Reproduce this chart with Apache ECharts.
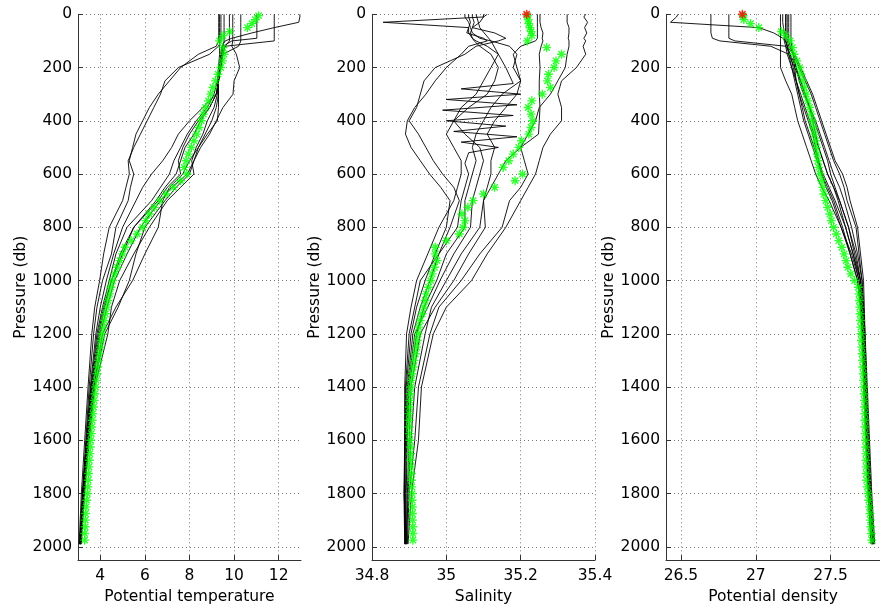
<!DOCTYPE html>
<html>
<head>
<meta charset="utf-8">
<script src="https://cdn.jsdelivr.net/npm/echarts@6/dist/echarts.min.js"></script>
<style>
  html, body { margin: 0; padding: 0; background: #fff; }
  #chart { width: 880px; height: 610px; }
</style>
</head>
<body>
<div id="chart"></div>
<script>
// tick labels
const pressureTicks = [0, 200, 400, 600, 800, 1000, 1200, 1400, 1600, 1800, 2000];
const tempTicks = [4, 6, 8, 10, 12];
const salTicks = [34.8, 35, 35.2, 35.4];
const densTicks = [26.5, 27, 27.5];

// pressure levels of the black profiles
const profileP = [0, 10, 30, 50, 70, 90, 100, 120, 150, 200, 250, 300, 350, 400, 450, 500, 550,
  600, 650, 700, 800, 900, 1000, 1100, 1200, 1400, 1600, 1800, 1990];

// potential temperature profiles
const tempA = [9.31, 9.31, 9.31, 9.31, 9.31, 9.31, 9.31, 9.2, 8.4, 7.6, 7.1, 6.6, 6.2, 5.9, 5.6, 5.45, 5.3, 5.5, 5.35, 5.25, 4.7, 4.5, 4.1, 3.85, 3.7, 3.5, 3.35, 3.2, 3.08];
const tempB = [9.41, 9.41, 9.41, 9.41, 9.41, 9.41, 9.41, 9.3, 8.9, 7.5, 6.9, 6.7, 6.4, 6.1, 5.8, 5.5, 5.25, 5.3, 5.15, 5.0, 4.4, 4.15, 3.97, 3.75, 3.62, 3.45, 3.3, 3.15, 3.05];
const tempC = [9.79, 9.79, 9.79, 9.79, 9.79, 9.79, 9.79, 9.6, 9.45, 9.35, 9.3, 9.2, 8.6, 8.0, 7.5, 7.2, 6.8, 6.3, 5.9, 5.6, 5.0, 4.6, 4.27, 4.0, 3.8, 3.55, 3.38, 3.22, 3.1];
const tempD = [9.94, 9.94, 9.94, 9.94, 9.94, 9.94, 9.94, 9.9, 10.1, 10.25, 10.0, 9.95, 9.5, 9.2, 8.9, 8.5, 8.2, 7.9, 7.2, 6.7, 5.8, 5.2, 4.64, 4.3, 4.0, 3.65, 3.42, 3.25, 3.12];
const tempE = [10.3, 10.3, 10.3, 10.3, 10.3, 10.3, 10.3, 10.2, 9.5, 9.4, 9.3, 9.2, 8.9, 8.5, 8.2, 7.8, 7.6, 7.4, 6.9, 6.5, 5.5, 4.9, 4.5, 4.15, 3.9, 3.6, 3.4, 3.22, 3.1];
const tempF = [11.02, 11.02, 11.02, 11.02, 11.02, 11.02, 9.9, 9.5, 9.45, 9.4, 9.25, 9.1, 8.8, 8.3, 7.9, 7.6, 7.3, 7.1, 6.7, 6.3, 5.2, 4.7, 4.4, 4.1, 3.85, 3.58, 3.38, 3.2, 3.08];
const tempG = [11.8, 11.8, 11.8, 11.8, 11.8, 11.8, 11.8, 9.6, 9.5, 9.4, 9.3, 9.25, 9.1, 8.8, 8.6, 8.3, 8.1, 8.2, 7.6, 7.0, 6.2, 5.5, 4.87, 4.5, 4.34, 3.75, 3.5, 3.3, 3.15];
const tempH = [12.95, 12.95, 12.9, 11.8, 10.8, 9.9, 9.6, 9.45, 9.4, 9.35, 9.3, 9.3, 9.2, 9.0, 8.7, 8.4, 8.2, 8.0, 7.4, 6.9, 6.0, 5.6, 5.3, 4.8, 4.2, 3.7, 3.45, 3.28, 3.12];
const tempI = [9.55, 9.55, 9.55, 9.55, 9.55, 9.55, 9.55, 9.5, 9.45, 9.4, 9.3, 9.2, 8.9, 8.4, 8.0, 7.7, 7.5, 7.6, 7.0, 6.6, 5.5, 5.0, 4.5, 4.2, 3.95, 3.62, 3.4, 3.22, 3.1];
const tempJ = [9.35, 9.35, 9.35, 9.35, 9.35, 9.35, 9.35, 9.35, 9.35, 9.3, 9.25, 9.3, 9.3, 9.25, 8.8, 8.4, 8.0, 7.7, 7.1, 6.8, 6.6, 6.0, 5.45, 4.7, 4.1, 3.7, 3.45, 3.25, 3.12];

// salinity profiles
const salA = [35.06, 35.06, 35.065, 35.06, 35.055, 35.1, 35.11, 35.06, 35.04, 35.0, 34.97, 34.945, 34.915, 34.895, 34.89, 34.905, 34.93, 34.955, 34.985, 35.01, 35.0, 34.97, 34.943, 34.92, 34.905, 34.892, 34.889, 34.887, 34.889];
const salB = [35.1, 35.1, 35.09, 35.07, 35.13, 35.16, 35.14, 35.08, 35.05, 34.97, 34.94, 34.93, 34.92, 34.9, 34.925, 34.945, 34.965, 34.99, 35.02, 35.035, 35.01, 34.98, 34.956, 34.93, 34.91, 34.895, 34.89, 34.888, 34.89];
const salC = [35.11, 35.1, 34.83, 35.06, 35.06, 35.07, 35.075, 35.09, 35.12, 35.14, 35.13, 35.11, 35.06, 35.02, 35.0, 35.02, 35.04, 35.04, 35.03, 35.02, 34.98, 34.95, 34.92, 34.905, 34.893, 34.888, 34.888, 34.886, 34.888];
const salE = [35.375, 35.37, 35.38, 35.372, 35.378, 35.37, 35.375, 35.368, 35.375, 35.35, 35.31, 35.3, 35.31, 35.31, 35.28, 35.26, 35.25, 35.24, 35.22, 35.2, 35.16, 35.11, 35.068, 35.0, 34.965, 34.933, 34.925, 34.906, 34.897];
const salF = [35.325, 35.325, 35.325, 35.33, 35.33, 35.328, 35.33, 35.33, 35.325, 35.32, 35.3, 35.28, 35.25, 35.24, 35.22, 35.2, 35.21, 35.22, 35.2, 35.17, 35.15, 35.09, 35.04, 34.98, 34.956, 34.925, 34.915, 34.9, 34.895];
const salG = [35.252, 35.252, 35.252, 35.255, 35.26, 35.258, 35.26, 35.255, 35.25, 35.252, 35.25, 35.25, 35.252, 35.25, 35.248, 35.2, 35.16, 35.14, 35.12, 35.1, 35.09, 35.04, 35.0, 34.96, 34.943, 34.915, 34.905, 34.897, 34.893];
const salH = [35.245, 35.245, 35.245, 35.245, 35.245, 35.245, 35.24, 35.2, 35.18, 35.19, 35.2, 35.15, 35.12, 35.1, 35.08, 35.07, 35.08, 35.07, 35.06, 35.05, 35.05, 35.0, 34.974, 34.94, 34.92, 34.9, 34.895, 34.892, 34.891];
const salI = [35.05, 35.05, 35.06, 35.065, 35.07, 35.09, 35.12, 35.17, 35.19, 35.18, 35.2, 35.19, 35.16, 35.13, 35.11, 35.13, 35.12, 35.12, 35.11, 35.1, 35.105, 35.06, 35.02, 34.97, 34.93, 34.905, 34.9, 34.895, 34.892];
const salJ = [35.07, 35.07, 35.075, 35.07, 35.065, 35.07, 35.08, 35.11, 35.14, 35.12, 35.1, 35.08, 35.04, 35.02, 35.05, 35.09, 35.1, 35.09, 35.08, 35.07, 35.065, 35.02, 34.983, 34.95, 34.915, 34.897, 34.893, 34.89, 34.89];
// the noisy salinity profile has its own levels
const salZigP = [0, 50, 100, 150, 200, 260, 280, 300, 320, 340, 360, 380, 400, 420, 440, 460, 480, 500, 520, 560, 600, 700, 800, 1000, 1200, 1400, 1600, 1800, 1990];
const salZig = [35.08, 35.09, 35.12, 35.14, 35.16, 35.18, 35.04, 35.2, 35.0, 35.19, 34.99, 35.18, 35.0, 35.16, 35.02, 35.19, 35.04, 35.14, 35.06, 35.05, 35.06, 35.04, 35.03, 34.93, 34.9, 34.89, 34.888, 34.887, 34.889];

// potential density profiles
const densA = [27.21, 27.21, 27.21, 27.21, 27.21, 27.21, 27.21, 27.22, 27.26, 27.3, 27.34, 27.38, 27.41, 27.44, 27.47, 27.5, 27.53, 27.58, 27.61, 27.63, 27.68, 27.7, 27.72, 27.725, 27.73, 27.74, 27.75, 27.765, 27.785];
const densB = [27.2, 27.2, 27.2, 27.2, 27.2, 27.2, 27.2, 27.21, 27.25, 27.29, 27.33, 27.37, 27.4, 27.43, 27.46, 27.49, 27.52, 27.56, 27.59, 27.61, 27.67, 27.69, 27.71, 27.72, 27.725, 27.735, 27.745, 27.76, 27.78];
const densC = [26.48, 26.47, 26.43, 27.02, 27.12, 27.18, 27.2, 27.21, 27.22, 27.24, 27.26, 27.28, 27.3, 27.32, 27.35, 27.38, 27.41, 27.44, 27.48, 27.52, 27.58, 27.63, 27.68, 27.7, 27.71, 27.725, 27.74, 27.755, 27.78];
const densD = [26.7, 26.7, 26.7, 26.7, 26.7, 26.71, 26.76, 27.1, 27.22, 27.26, 27.3, 27.33, 27.36, 27.39, 27.42, 27.45, 27.48, 27.5, 27.53, 27.56, 27.62, 27.66, 27.7, 27.71, 27.72, 27.73, 27.745, 27.76, 27.78];
const densE = [26.82, 26.82, 26.82, 26.82, 26.82, 26.82, 26.86, 27.2, 27.23, 27.27, 27.3, 27.33, 27.36, 27.38, 27.4, 27.42, 27.45, 27.48, 27.52, 27.55, 27.6, 27.65, 27.69, 27.705, 27.715, 27.73, 27.74, 27.755, 27.775];
const densF = [27.165, 27.165, 27.165, 27.165, 27.165, 27.165, 27.165, 27.165, 27.165, 27.165, 27.2, 27.24, 27.26, 27.28, 27.31, 27.34, 27.37, 27.4, 27.44, 27.49, 27.57, 27.63, 27.68, 27.7, 27.71, 27.72, 27.735, 27.75, 27.77];
const densG = [27.18, 27.18, 27.18, 27.185, 27.19, 27.19, 27.19, 27.2, 27.21, 27.24, 27.27, 27.3, 27.33, 27.36, 27.39, 27.42, 27.45, 27.48, 27.52, 27.56, 27.62, 27.67, 27.7, 27.71, 27.72, 27.73, 27.745, 27.76, 27.78];
const densH = [27.2, 27.2, 27.2, 27.2, 27.2, 27.2, 27.2, 27.21, 27.23, 27.25, 27.27, 27.29, 27.32, 27.35, 27.38, 27.4, 27.42, 27.44, 27.47, 27.51, 27.57, 27.64, 27.69, 27.71, 27.72, 27.735, 27.75, 27.765, 27.785];
const densI = [27.22, 27.22, 27.22, 27.22, 27.22, 27.22, 27.22, 27.23, 27.25, 27.26, 27.27, 27.29, 27.31, 27.33, 27.36, 27.39, 27.42, 27.45, 27.49, 27.53, 27.6, 27.65, 27.7, 27.715, 27.725, 27.74, 27.755, 27.77, 27.79];
const densJ = [27.235, 27.235, 27.235, 27.235, 27.235, 27.235, 27.235, 27.24, 27.25, 27.27, 27.29, 27.32, 27.36, 27.4, 27.43, 27.46, 27.49, 27.52, 27.56, 27.59, 27.64, 27.68, 27.71, 27.72, 27.73, 27.745, 27.76, 27.775, 27.795];

// highlighted profile (green stars)
const starP = [5, 20, 35, 50, 65, 80, 100, 125, 150, 175, 200, 225, 250, 275, 300, 325, 350, 375, 400, 425,
  450, 475, 500, 525, 550, 575, 600, 625, 650, 675, 700, 725, 750, 775, 800, 825, 850, 875, 900, 925,
  950, 975, 1000, 1025, 1050, 1075, 1100, 1125, 1150, 1175, 1200, 1225, 1250, 1275, 1300, 1325, 1350, 1375, 1400, 1425,
  1450, 1475, 1500, 1525, 1550, 1575, 1600, 1625, 1650, 1675, 1700, 1725, 1750, 1775, 1800, 1825, 1850, 1875, 1900, 1925,
  1950, 1975];
const starTemp = [11.1, 10.95, 10.8, 10.6, 9.8, 9.5, 9.35, 9.5, 9.55, 9.48, 9.4, 9.28, 9.17, 9.05, 8.95, 8.85, 8.72, 8.62, 8.53, 8.43,
  8.32, 8.2, 8.08, 7.95, 7.85, 7.76, 7.88, 7.6, 7.28, 6.95, 6.67, 6.42, 6.2, 6.05, 5.9, 5.65, 5.38, 5.12, 5.0, 4.88,
  4.76, 4.65, 4.55, 4.48, 4.42, 4.35, 4.29, 4.23, 4.18, 4.13, 4.08, 4.04, 4.0, 3.96, 3.92, 3.88, 3.85, 3.82, 3.79, 3.76,
  3.73, 3.7, 3.67, 3.64, 3.62, 3.6, 3.57, 3.55, 3.53, 3.51, 3.49, 3.47, 3.46, 3.44, 3.42, 3.39, 3.36, 3.34, 3.33, 3.32,
  3.3, 3.3];
const starSal = [35.218, 35.22, 35.222, 35.225, 35.228, 35.23, 35.218, 35.27, 35.31, 35.295, 35.29, 35.275, 35.272, 35.28, 35.258, 35.23, 35.22, 35.228, 35.232, 35.228,
  35.222, 35.202, 35.195, 35.18, 35.168, 35.153, 35.205, 35.185, 35.13, 35.1, 35.072, 35.058, 35.042, 35.05, 35.045, 35.035, 35.0, 34.97, 34.97, 34.975,
  34.968, 34.962, 34.958, 34.952, 34.946, 34.943, 34.94, 34.935, 34.93, 34.926, 34.924, 34.922, 34.92, 34.917, 34.913, 34.911, 34.908, 34.906, 34.904, 34.903,
  34.902, 34.901, 34.9, 34.9, 34.9, 34.901, 34.902, 34.903, 34.904, 34.904, 34.905, 34.906, 34.906, 34.907, 34.908, 34.908, 34.909, 34.909, 34.909, 34.91,
  34.91, 34.91];
const starDens = [26.915, 26.92, 26.965, 27.02, 27.17, 27.2, 27.23, 27.245, 27.255, 27.275, 27.293, 27.302, 27.313, 27.325, 27.337, 27.348, 27.36, 27.37, 27.378, 27.385,
  27.392, 27.4, 27.405, 27.41, 27.415, 27.42, 27.43, 27.44, 27.448, 27.455, 27.468, 27.48, 27.495, 27.505, 27.52, 27.538, 27.555, 27.575, 27.59, 27.603,
  27.615, 27.635, 27.66, 27.685, 27.69, 27.692, 27.695, 27.697, 27.7, 27.702, 27.704, 27.706, 27.708, 27.71, 27.713, 27.715, 27.718, 27.72, 27.722, 27.724,
  27.726, 27.727, 27.728, 27.729, 27.73, 27.731, 27.733, 27.735, 27.736, 27.737, 27.738, 27.739, 27.74, 27.745, 27.75, 27.755, 27.76, 27.763, 27.766, 27.769,
  27.772, 27.775];

// surface point (red star)
const redP = [0];
const redSal = [35.216];
const redDens = [26.91];

const FONT = 'DejaVu Sans';
const STAR = 'path://M0,5L10,5M5,0L5,10M1.5,1.5L8.5,8.5M8.5,1.5L1.5,8.5';

function pairs(values, pressures) {
  return values.map((v, i) => [v, pressures[i]]);
}

const panels = [
  { left: 78, width: 223, min: 3, max: 13, ticks: tempTicks, name: 'Potential temperature',
    lines: [[tempA, profileP], [tempB, profileP], [tempC, profileP], [tempD, profileP], [tempE, profileP],
            [tempF, profileP], [tempG, profileP], [tempH, profileP], [tempI, profileP], [tempJ, profileP]],
    stars: starTemp, red: null },
  { left: 372, width: 223, min: 34.8, max: 35.4, ticks: salTicks, name: 'Salinity',
    lines: [[salA, profileP], [salB, profileP], [salC, profileP], [salZig, salZigP], [salE, profileP],
            [salF, profileP], [salG, profileP], [salH, profileP], [salI, profileP], [salJ, profileP]],
    stars: starSal, red: redSal },
  { left: 666, width: 214, min: 26.4, max: 27.83, ticks: densTicks, name: 'Potential density',
    lines: [[densA, profileP], [densB, profileP], [densC, profileP], [densD, profileP], [densE, profileP],
            [densF, profileP], [densG, profileP], [densH, profileP], [densI, profileP], [densJ, profileP]],
    stars: starDens, red: redDens }
];

const axisColor = '#333';
const gridLine = { show: true, lineStyle: { color: '#777', width: 1, type: [1, 3] } };
const textStyle = { fontFamily: FONT, fontSize: 15.5, color: '#000' };
const plain = v => String(v);

const grid = [], xAxis = [], yAxis = [], series = [];
panels.forEach((pn, i) => {
  grid.push({ left: pn.left, top: 14.3, width: pn.width, height: 547.4 });
  xAxis.push({
    gridIndex: i, type: 'value', min: pn.min, max: pn.max,
    name: pn.name, nameLocation: 'middle', nameGap: 26, nameTextStyle: textStyle,
    axisLine: { show: true, onZero: false, lineStyle: { color: axisColor, width: 1 } },
    axisTick: { show: true, inside: true, length: 5, customValues: pn.ticks, lineStyle: { color: axisColor } },
    axisLabel: Object.assign({ customValues: pn.ticks, margin: 8, formatter: plain }, textStyle),
    splitLine: gridLine
  });
  yAxis.push({
    gridIndex: i, type: 'value', inverse: true, min: 0, max: 2050,
    name: 'Pressure (db)', nameLocation: 'middle', nameGap: 49, nameTextStyle: textStyle,
    axisLine: { show: true, onZero: false, lineStyle: { color: axisColor, width: 1 } },
    axisTick: { show: true, inside: true, length: 5, customValues: pressureTicks, lineStyle: { color: axisColor } },
    axisLabel: Object.assign({ customValues: pressureTicks, margin: 6, formatter: plain }, textStyle),
    splitLine: gridLine
  });
  pn.lines.forEach(([vals, ps]) => {
    series.push({
      type: 'line', xAxisIndex: i, yAxisIndex: i, data: pairs(vals, ps),
      symbol: 'none', silent: true, z: 2,
      lineStyle: { color: '#000', width: 0.9 }
    });
  });
  series.push({
    type: 'scatter', xAxisIndex: i, yAxisIndex: i, data: pairs(pn.stars, starP),
    symbol: STAR, symbolSize: 9, silent: true, z: 3,
    itemStyle: { color: 'rgba(0,0,0,0)', borderColor: '#00ff00', borderWidth: 1.4 }
  });
  if (pn.red) {
    series.push({
      type: 'scatter', xAxisIndex: i, yAxisIndex: i, data: pairs(pn.red, redP),
      symbol: STAR, symbolSize: 9, silent: true, z: 4,
      itemStyle: { color: 'rgba(0,0,0,0)', borderColor: '#ff0000', borderWidth: 1.5 }
    });
  }
});

const chart = echarts.init(document.getElementById('chart'), null, { renderer: 'canvas' });
chart.setOption({
  animation: false,
  backgroundColor: '#fff',
  grid, xAxis, yAxis, series
});
</script>
</body>
</html>
